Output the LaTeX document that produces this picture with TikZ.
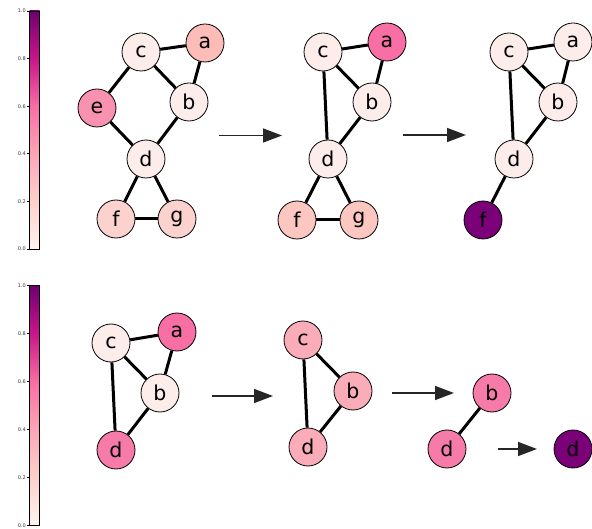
\documentclass[tikz,border=0pt]{standalone}
\usepackage{fontspec}
\setmainfont{DejaVu Sans}
\usetikzlibrary{arrows.meta}

\newlength{\du}
\setlength{\du}{1pt}

% node fills
\definecolor{fillpale}{HTML}{FDEDEA}
\definecolor{fillrose}{HTML}{FCBDB9}
\definecolor{fillblush}{HTML}{FCD2CE}
\definecolor{fillsalmon}{HTML}{FCC6C1}
\definecolor{fillpink}{HTML}{F992B1}
\definecolor{fillhot}{HTML}{F76FA4}
\definecolor{fillcoral}{HTML}{F77BA9}
\definecolor{fillcandy}{HTML}{FBACB9}
\definecolor{fillplum}{HTML}{7A0177}
% colour bar stops
\definecolor{barzero}{HTML}{FFF5F2}
\definecolor{bartwo}{HTML}{FCD0CB}
\definecolor{barfour}{HTML}{FBA6B7}
\definecolor{barsix}{HTML}{F76EA4}
\definecolor{bareight}{HTML}{C8168A}
\definecolor{barone}{HTML}{6E0070}

% tikz maps the box of the path onto 25bp..75bp of the shading
\pgfdeclareverticalshading{barshade}{100bp}{color(0bp)=(barzero); color(25bp)=(barzero); color(35bp)=(bartwo); color(45bp)=(barfour); color(55bp)=(barsix); color(65bp)=(bareight); color(75bp)=(barone); color(100bp)=(barone)}

\tikzset{
  vertex/.style={circle,draw=black,line width=0.8\du,minimum size=38\du,inner sep=0pt,
    font=\fontsize{20.5}{24}\selectfont},
  edge/.style={line width=3\du},
  stagearrow/.style={line width=1.5\du,draw=black!85,-{Triangle[length=19pt,width=14pt]}},
  barframe/.style={line width=0.6\du,draw=black},
  tickmark/.style={line width=0.6\du},
  ticklabel/.style={font=\fontsize{5}{6}\selectfont,anchor=east,inner sep=0pt,text=black!80},
}

\begin{document}
\begin{tikzpicture}[x=1\du,y=-1\du]
\useasboundingbox (0,0) rectangle (592,529);

% colour bar, top row
\shade[shading=barshade] (29.5,11) rectangle (39.5,249);
\draw[barframe] (29.5,11) rectangle (39.5,249);
\draw[tickmark] (27,11)--(29.5,11);
\draw[tickmark] (27,58.6)--(29.5,58.6);
\draw[tickmark] (27,106.2)--(29.5,106.2);
\draw[tickmark] (27,153.8)--(29.5,153.8);
\draw[tickmark] (27,201.4)--(29.5,201.4);
\draw[tickmark] (27,249)--(29.5,249);
\node[ticklabel] (ttop) at (26,11) {1.0};
\node[ticklabel] (tei) at (26,58.6) {0.8};
\node[ticklabel] (tsi) at (26,106.2) {0.6};
\node[ticklabel] (tfo) at (26,153.8) {0.4};
\node[ticklabel] (ttw) at (26,201.4) {0.2};
\node[ticklabel] (tbot) at (26,249) {0.0};

% colour bar, bottom row
\shade[shading=barshade] (29.5,285.5) rectangle (39.5,525.5);
\draw[barframe] (29.5,285.5) rectangle (39.5,525.5);
\draw[tickmark] (27,285.5)--(29.5,285.5);
\draw[tickmark] (27,333.5)--(29.5,333.5);
\draw[tickmark] (27,381.5)--(29.5,381.5);
\draw[tickmark] (27,429.5)--(29.5,429.5);
\draw[tickmark] (27,477.5)--(29.5,477.5);
\draw[tickmark] (27,525.5)--(29.5,525.5);
\node[ticklabel] (btop) at (26,285.5) {1.0};
\node[ticklabel] (bei) at (26,333.5) {0.8};
\node[ticklabel] (bsi) at (26,381.5) {0.6};
\node[ticklabel] (bfo) at (26,429.5) {0.4};
\node[ticklabel] (btw) at (26,477.5) {0.2};
\node[ticklabel] (bbot) at (26,525.5) {0.0};

% top row, stage 1
\node[vertex,fill=fillpale] (ta-c) at (141,52) {c};
\node[vertex,fill=fillrose] (ta-a) at (205,43) {a};
\node[vertex,fill=fillpink] (ta-e) at (97,108) {e};
\node[vertex,fill=fillpale] (ta-b) at (189,102) {b};
\node[vertex,fill=fillpale] (ta-d) at (146,159) {d};
\node[vertex,fill=fillblush] (ta-f) at (116,219) {f};
\node[vertex,fill=fillblush] (ta-g) at (177,219) {g};
\draw[edge] (ta-c)--(ta-a);
\draw[edge] (ta-c)--(ta-e);
\draw[edge] (ta-c)--(ta-b);
\draw[edge] (ta-a)--(ta-b);
\draw[edge] (ta-e)--(ta-d);
\draw[edge] (ta-b)--(ta-d);
\draw[edge] (ta-d)--(ta-f);
\draw[edge] (ta-d)--(ta-g);
\draw[edge] (ta-f)--(ta-g);

\coordinate (tarr1s) at (219,135.5);
\coordinate (tarr1e) at (282,135.5);
\draw[stagearrow] (tarr1s)--(tarr1e);

% top row, stage 2
\node[vertex,fill=fillpale] (tb-c) at (323,52) {c};
\node[vertex,fill=fillhot] (tb-a) at (387,42) {a};
\node[vertex,fill=fillpale] (tb-b) at (372,102) {b};
\node[vertex,fill=fillpale] (tb-d) at (328,159) {d};
\node[vertex,fill=fillsalmon] (tb-f) at (297,220) {f};
\node[vertex,fill=fillsalmon] (tb-g) at (359,220) {g};
\draw[edge] (tb-c)--(tb-a);
\draw[edge] (tb-c)--(tb-b);
\draw[edge] (tb-a)--(tb-b);
\draw[edge] (tb-c)--(tb-d);
\draw[edge] (tb-b)--(tb-d);
\draw[edge] (tb-d)--(tb-f);
\draw[edge] (tb-d)--(tb-g);
\draw[edge] (tb-f)--(tb-g);

\coordinate (tarr2s) at (403,135);
\coordinate (tarr2e) at (466,135);
\draw[stagearrow] (tarr2s)--(tarr2e);

% top row, stage 3
\node[vertex,fill=fillpale] (tc-c) at (509,52) {c};
\node[vertex,fill=fillpale] (tc-a) at (573,42) {a};
\node[vertex,fill=fillpale] (tc-b) at (558,102) {b};
\node[vertex,fill=fillpale] (tc-d) at (514,159) {d};
\node[vertex,fill=fillplum] (tc-f) at (483,220) {f};
\draw[edge] (tc-c)--(tc-a);
\draw[edge] (tc-c)--(tc-b);
\draw[edge] (tc-a)--(tc-b);
\draw[edge] (tc-c)--(tc-d);
\draw[edge] (tc-b)--(tc-d);
\draw[edge] (tc-d)--(tc-f);

% bottom row, stage 1
\node[vertex,fill=fillpale] (ba-c) at (111,343) {c};
\node[vertex,fill=fillhot] (ba-a) at (177,332) {a};
\node[vertex,fill=fillpale] (ba-b) at (160,393) {b};
\node[vertex,fill=fillcoral] (ba-d) at (116,450) {d};
\draw[edge] (ba-c)--(ba-a);
\draw[edge] (ba-c)--(ba-b);
\draw[edge] (ba-a)--(ba-b);
\draw[edge] (ba-c)--(ba-d);
\draw[edge] (ba-b)--(ba-d);

\coordinate (barr1s) at (212,396);
\coordinate (barr1e) at (273,396);
\draw[stagearrow] (barr1s)--(barr1e);

% bottom row, stage 2
\node[vertex,fill=fillcandy] (bb-c) at (303,340) {c};
\node[vertex,fill=fillcandy] (bb-b) at (353,391) {b};
\node[vertex,fill=fillcandy] (bb-d) at (308,447) {d};
\draw[edge] (bb-c)--(bb-b);
\draw[edge] (bb-c)--(bb-d);
\draw[edge] (bb-b)--(bb-d);

\coordinate (barr2s) at (392,393);
\coordinate (barr2e) at (454,393);
\draw[stagearrow] (barr2s)--(barr2e);

% bottom row, stage 3
\node[vertex,fill=fillcoral] (bc-b) at (492,393) {b};
\node[vertex,fill=fillcoral] (bc-d) at (447,449) {d};
\draw[edge] (bc-b)--(bc-d);

\coordinate (barr3s) at (498,449);
\coordinate (barr3e) at (537,449);
\draw[stagearrow] (barr3s)--(barr3e);

% bottom row, stage 4
\node[vertex,fill=fillplum] (bd-d) at (573,449) {d};
\end{tikzpicture}
\end{document}
